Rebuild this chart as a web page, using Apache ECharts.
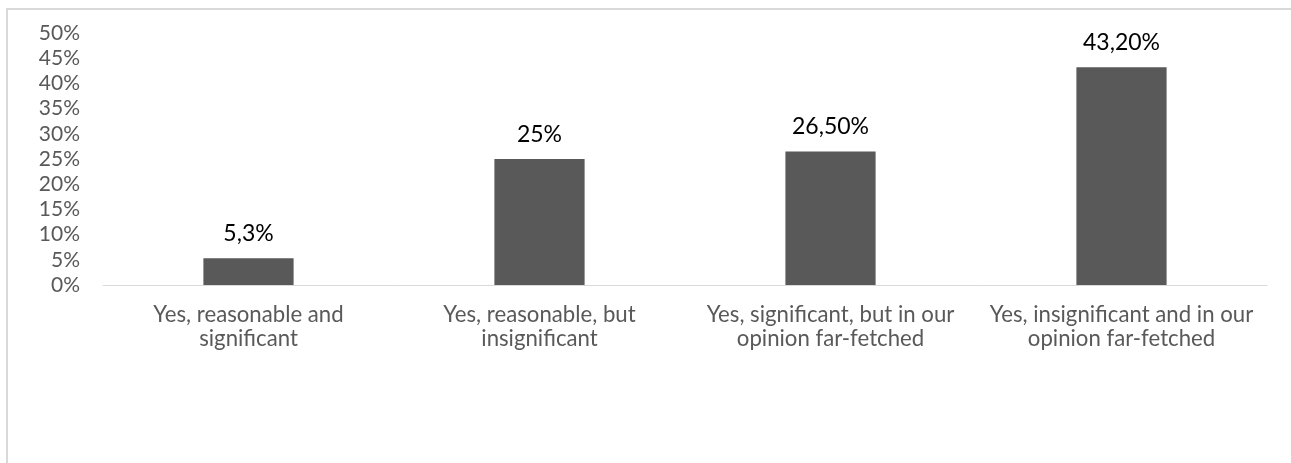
<!DOCTYPE html>
<html>
<head>
<meta charset="utf-8">
<script src="https://cdn.jsdelivr.net/npm/echarts@6/dist/echarts.min.js"></script>
<style>
  html, body { margin: 0; padding: 0; background: #fff; }
  #frame { position: absolute; left: 6px; top: 8px; width: 1290px; height: 470px;
           border: 2px solid #d9d9d9; box-sizing: border-box; }
  #chart { position: absolute; left: 0; top: 0; width: 1291px; height: 463px; }
</style>
</head>
<body>
<div id="frame"></div>
<div id="chart"></div>
<script>
// Survey answers and their shares (percent)
const categories = [
  'Yes, reasonable and\nsignificant',
  'Yes, reasonable, but\ninsignificant',
  'Yes, significant, but in our\nopinion far-fetched',
  'Yes, insignificant and in our\nopinion far-fetched'
];
const shares = [5.3, 25, 26.5, 43.2];
const shareLabels = ['5,3%', '25%', '26,50%', '43,20%'];

const font = 'Lato, sans-serif';

const chart = echarts.init(document.getElementById('chart'), null, { renderer: 'canvas' });
chart.setOption({
  animation: false,
  grid: { left: 103, right: 24, top: 33, bottom: 178 },
  xAxis: {
    type: 'category',
    data: categories,
    axisLine: { lineStyle: { color: '#d9d9d9', width: 1 } },
    axisTick: { show: false },
    axisLabel: {
      color: '#595959', fontFamily: font, fontSize: 22.2, lineHeight: 24,
      margin: 18, interval: 0
    }
  },
  yAxis: {
    type: 'value',
    min: 0, max: 50, interval: 5,
    axisLine: { show: false },
    axisTick: { show: false },
    splitLine: { show: false },
    axisLabel: {
      color: '#595959', fontFamily: font, fontSize: 21, margin: 23,
      formatter: v => v + '%'
    }
  },
  series: [{
    type: 'bar',
    data: shares,
    barWidth: '31%',
    itemStyle: { color: '#595959' },
    label: {
      show: true, position: 'top', distance: 13,
      color: '#000', fontFamily: font, fontSize: 23,
      formatter: p => shareLabels[p.dataIndex]
    }
  }]
});
</script>
</body>
</html>
